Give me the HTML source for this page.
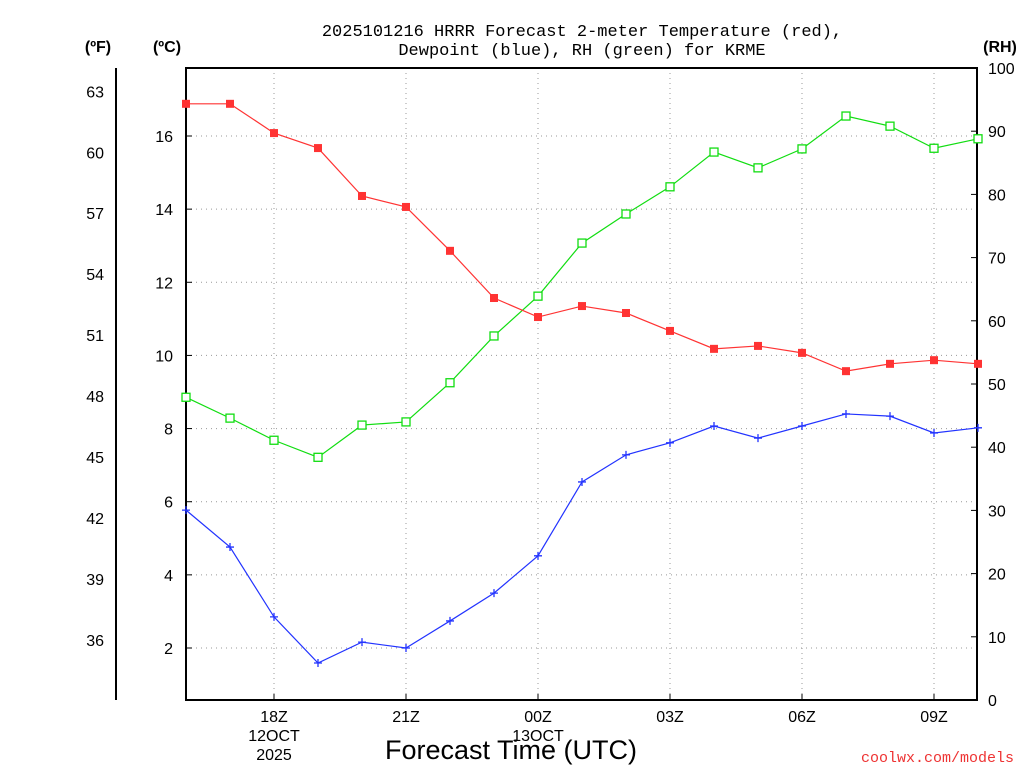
<!DOCTYPE html>
<html><head><meta charset="utf-8"><style>
body{margin:0;background:#fff;}
svg{display:block;font-family:"Liberation Sans",sans-serif;}
</style></head><body>
<svg id="c" width="1024" height="768">
<g>
<text x="582" y="36" text-anchor="middle" font-size="17" font-family="Liberation Mono, monospace">2025101216 HRRR Forecast 2-meter Temperature (red),</text>
<text x="582" y="55" text-anchor="middle" font-size="17" font-family="Liberation Mono, monospace">Dewpoint (blue), RH (green) for KRME</text>
</g>
<text x="98" y="52" text-anchor="middle" font-size="16" font-weight="bold">(ºF)</text>
<text x="167" y="52" text-anchor="middle" font-size="16" font-weight="bold">(ºC)</text>
<text x="1000" y="52" text-anchor="middle" font-size="16" font-weight="bold">(RH)</text>
<text x="511" y="759" text-anchor="middle" font-size="27">Forecast Time (UTC)</text>
<text x="1014" y="762" text-anchor="end" font-size="15" fill="#e33" font-family="Liberation Mono, monospace">coolwx.com/models</text>
<g id="grid"></g><g id="axes"></g><g id="series"></g>
</svg>
<script>
const hours=[16,17,18,19,20,21,22,23,24,25,26,27,28,29,30,31,32,33,34];
const tempC=[16.88,16.88,16.08,15.67,14.36,14.06,12.86,11.57,11.05,11.35,11.16,10.67,10.18,10.26,10.07,9.57,9.77,9.87,9.77];
const dewC=[5.77,4.76,2.85,1.59,2.16,2.0,2.74,3.5,4.52,6.54,7.28,7.61,8.07,7.74,8.07,8.4,8.34,7.88,8.02];
const rh=[47.9,44.6,41.1,38.4,43.5,44.0,50.2,57.6,63.9,72.3,76.9,81.2,86.7,84.2,87.2,92.4,90.8,87.3,88.8];
const cTicks=[2,4,6,8,10,12,14,16];
const fTicks=[36,39,42,45,48,51,54,57,60,63];
const rhTicks=[0,10,20,30,40,50,60,70,80,90,100];
const xTickHours=[18,21,24,27,30,33];
const xTickLabels=["18Z","21Z","00Z","03Z","06Z","09Z"];
const X0=186,X1=977,Y0=68,Y1=700;
const xS=h=>X0+(h-16)*44;
const cS=c=>136+(16-c)*36.571;
const fS=f=>cS((f-32)*5/9);
const rS=r=>Y1-r*(Y1-Y0)/100;
const NS="http://www.w3.org/2000/svg";
function mk(p,t,a){const e=document.createElementNS(NS,t);for(const k in a)e.setAttribute(k,a[k]);p.appendChild(e);return e;}
const grid=document.getElementById('grid'),axes=document.getElementById('axes'),ser=document.getElementById('series');
cTicks.forEach(c=>{const l=mk(grid,'line',{x1:X0,x2:X1,y1:cS(c),y2:cS(c),stroke:'#999','stroke-dasharray':'1,4'});

const t=mk(axes,'text',{x:173,y:cS(c)+6,'text-anchor':'end','font-size':16});t.textContent=c;

mk(axes,'line',{x1:X0,x2:X0+6,y1:cS(c),y2:cS(c),stroke:'#000'});});
fTicks.forEach(f=>{const t=mk(axes,'text',{x:104,y:fS(f)+6,'text-anchor':'end','font-size':16});t.textContent=f;
});
rhTicks.forEach(r=>{const t=mk(axes,'text',{x:988,y:rS(r)+6,'font-size':16});t.textContent=r;

mk(axes,'line',{x1:X1-6,x2:X1,y1:rS(r),y2:rS(r),stroke:'#000'});});
xTickHours.forEach((h,i)=>{const l=mk(grid,'line',{x1:xS(h),x2:xS(h),y1:Y0,y2:Y1,stroke:'#999','stroke-dasharray':'1,4'});

mk(axes,'line',{x1:xS(h),x2:xS(h),y1:Y1,y2:Y1-6,stroke:'#000'});
const t=mk(axes,'text',{x:xS(h),y:722,'text-anchor':'middle','font-size':16});t.textContent=xTickLabels[i];
});
[[274,741,"12OCT"],[274,760,"2025"],[538,741,"13OCT"]].forEach(d=>{const t=mk(axes,'text',{x:d[0],y:d[1],'text-anchor':'middle','font-size':16});t.textContent=d[2];
});
const fr=mk(axes,'rect',{x:X0,y:Y0,width:X1-X0,height:Y1-Y0,fill:'none',stroke:'#000','stroke-width':2});

const fa=mk(axes,'line',{x1:116,x2:116,y1:Y0,y2:Y1,stroke:'#000','stroke-width':2});

function series(vals,scale,color,marker,name){
const g=mk(ser,'g',{});
mk(g,'polyline',{points:vals.map((v,i)=>xS(hours[i])+','+scale(v)).join(' '),fill:'none',stroke:color,'stroke-width':1.2});
vals.forEach((v,i)=>{const x=xS(hours[i]),y=scale(v);let m;
if(marker==='fill')m=mk(g,'rect',{x:x-4,y:y-4,width:8,height:8,fill:color});
else if(marker==='open')m=mk(g,'rect',{x:x-4,y:y-4,width:8,height:8,fill:'#fff',stroke:color,'stroke-width':1.3});
else m=mk(g,'path',{d:`M${x-4} ${y}H${x+4}M${x} ${y-4}V${y+4}`,stroke:color,'stroke-width':1.3});
});}
series(rh,rS,'#1d1','open','rh-series');
series(tempC,cS,'#f33','fill','temperature-series');
series(dewC,cS,'#23f','plus','dewpoint-series');
</script>
</body></html>
